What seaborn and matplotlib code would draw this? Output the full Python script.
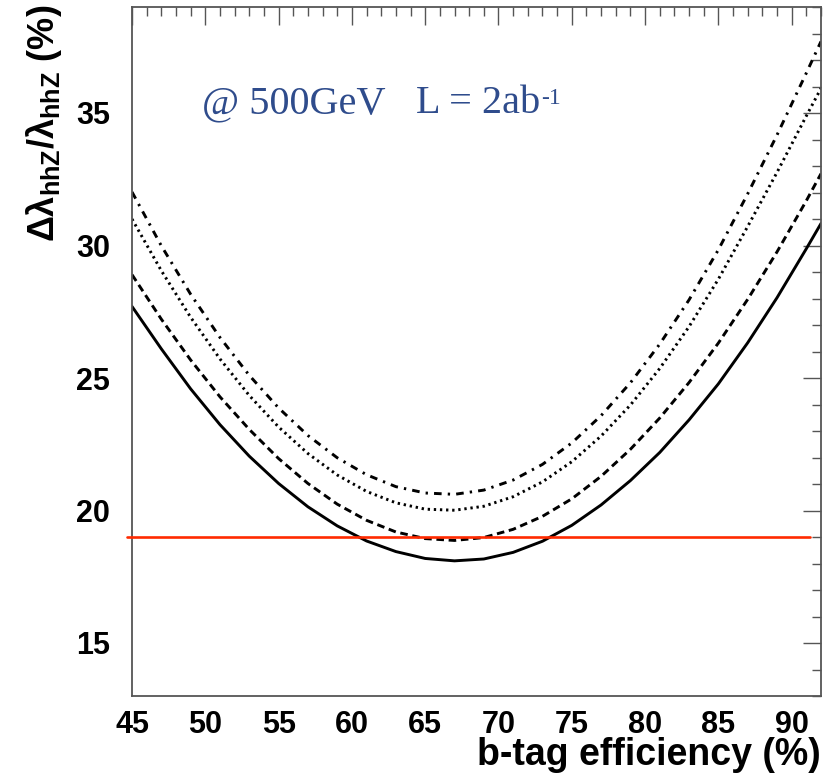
import numpy as np
import pandas as pd
import matplotlib
matplotlib.use("Agg")
import matplotlib.pyplot as plt
import seaborn as sns
from matplotlib.ticker import MultipleLocator

# ---- data ----
eff = [45, 47, 49, 51, 53, 55, 57, 59, 61, 63, 65, 67, 69, 71, 73, 75, 77, 79,
       81, 83, 85, 87, 89, 91, 92]
solid_vals = [27.70, 26.10, 24.59, 23.24, 22.05, 21.02, 20.14, 19.42, 18.85, 18.45,
              18.19, 18.10, 18.17, 18.42, 18.84, 19.44, 20.21, 21.13, 22.19, 23.42,
              24.78, 26.33, 28.03, 29.88, 30.83]
dashed_vals = [28.90, 27.22, 25.68, 24.29, 23.06, 21.96, 21.02, 20.24, 19.63, 19.19,
               18.94, 18.87, 18.98, 19.29, 19.78, 20.44, 21.29, 22.31, 23.49, 24.83,
               26.32, 27.97, 29.76, 31.69, 32.71]
dotted_vals = [31.00, 29.05, 27.29, 25.72, 24.34, 23.15, 22.15, 21.34, 20.72, 20.29,
               20.05, 20.01, 20.16, 20.52, 21.08, 21.84, 22.81, 23.98, 25.36, 26.94,
               28.73, 30.72, 32.76, 34.89, 35.93]
dashdot_vals = [32.02, 29.99, 28.16, 26.53, 25.10, 23.87, 22.83, 21.99, 21.35, 20.90,
                20.66, 20.61, 20.77, 21.15, 21.74, 22.55, 23.58, 24.82, 26.28, 27.95,
                29.84, 31.95, 34.17, 36.51, 37.70]
series_names = ["solid", "dashed", "dotted", "dashdot"]

target_x = [44.65, 91.25]
target_y = 19.0

xticks = [45, 50, 55, 60, 65, 70, 75, 80, 85, 90]
yticks = [15, 20, 25, 30, 35]

label_energy = "@ 500GeV"
label_lumi = "L = 2ab"
label_lumi_sup = "-1"

# ---- build long-form table ----
df = pd.DataFrame({
    "eff": eff * 4,
    "val": solid_vals + dashed_vals + dotted_vals + dashdot_vals,
    "series": sum([[n] * len(eff) for n in series_names], []),
})

sns.set_style("white")
plt.rcParams["font.family"] = ["Liberation Sans", "DejaVu Sans"]
plt.rcParams["text.color"] = "black"
plt.rcParams["axes.labelcolor"] = "black"
plt.rcParams["xtick.labelcolor"] = "black"
plt.rcParams["ytick.labelcolor"] = "black"
plt.rcParams["mathtext.fontset"] = "custom"
plt.rcParams["mathtext.rm"] = "Liberation Sans:bold"
plt.rcParams["mathtext.it"] = "Liberation Sans:bold"
plt.rcParams["mathtext.bf"] = "Liberation Sans:bold"

fig = plt.figure(figsize=(8.23, 7.82), dpi=100)
ax = fig.add_axes([132 / 823, 1 - 696 / 782, (821 - 132) / 823, (696 - 7) / 782])

dash_styles = {
    "solid": "",
    "dashed": (2.6, 1.6),
    "dotted": (0.8, 1.3),
    "dashdot": (2.6, 2.1, 0.8, 2.1),
}
sns.lineplot(data=df, x="eff", y="val", style="series", dashes=dash_styles,
             color="black", linewidth=2.1, legend=False, ax=ax,
             style_order=series_names)

ax.plot(target_x, [target_y, target_y], color="#ff2a00", linewidth=1.9,
        clip_on=False, zorder=5)

ax.set_xlim(45, 92)
ax.set_ylim(13, 39)
ax.set_xticks(xticks)
ax.set_yticks(yticks)
ax.xaxis.set_minor_locator(MultipleLocator(1))
ax.yaxis.set_minor_locator(MultipleLocator(1))
ax.tick_params(which="both", direction="in", top=True, right=True,
               color="#555555", width=1.0, labelcolor="black")
ax.tick_params(which="major", length=13)
ax.tick_params(which="minor", length=6.5)
ax.tick_params(axis="x", which="major", pad=10)
ax.tick_params(axis="y", which="major", pad=16)
for lab in ax.get_xticklabels() + ax.get_yticklabels():
    lab.set_fontsize(22)
    lab.set_fontweight("bold")
for sp in ax.spines.values():
    sp.set_color("#555555")
    sp.set_linewidth(1.3)

ax.set_xlabel("b-tag efficiency (%)", fontsize=27, fontweight="bold", loc="right")
ax.xaxis.set_label_coords(1.0, -0.06)
ax.set_ylabel(r"$\Delta\lambda_{hhZ}/\lambda_{hhZ}$ (%)", fontsize=26,
              fontweight="bold", loc="top")
ax.yaxis.set_label_coords(-0.098, 1.003)

ax.text(49.8, 35.0, label_energy, fontsize=29, color="#2f4c8c",
        family="Liberation Serif", va="baseline", ha="left")
t_lumi = ax.text(64.4, 35.0, label_lumi, fontsize=29, color="#2f4c8c",
                 family="Liberation Serif", va="baseline", ha="left")
ax.annotate(label_lumi_sup, xy=(1.0, 0.93), xycoords=t_lumi, fontsize=17,
            color="#2f4c8c", family="Liberation Serif", va="top", ha="left")

fig.savefig("out.png", dpi=100)
